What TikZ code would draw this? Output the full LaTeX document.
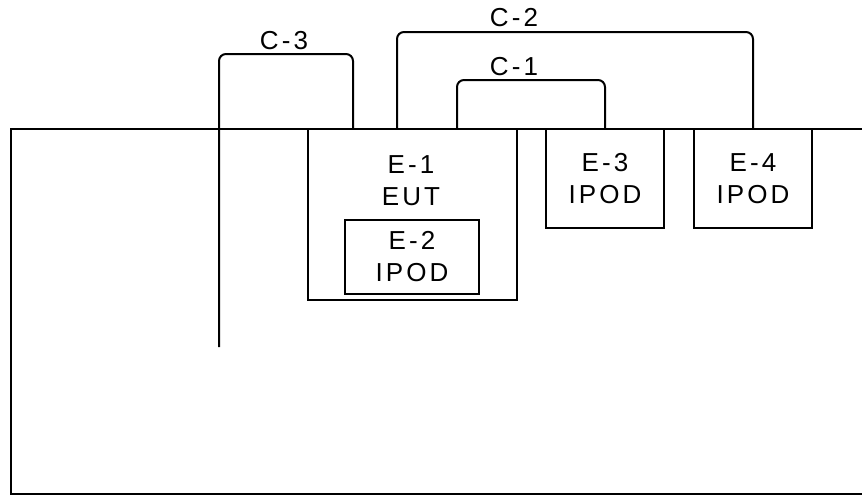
\documentclass[tikz,border=0pt]{standalone}
\usepackage{fontspec}
\setsansfont{Liberation Sans}[LetterSpace=12]
\usetikzlibrary{calc}

\begin{document}
\begin{tikzpicture}[
    x=0.5pt, y=-0.5pt,
    font=\sffamily\fontsize{13}{16}\selectfont,
    unit/.style={
        draw,
        line width=1pt,
        outer sep=0pt,
        inner sep=0pt,
        align=center
    },
    wire/.style={
        line width=1pt,
        rounded corners=3.5pt
    },
    tag/.style={
        inner sep=0pt,
        align=center
    }
]

\useasboundingbox (0,0) rectangle (862,495);

% --------------------------------------------------
% Bench and units
% --------------------------------------------------

\node[unit, anchor=north west, minimum width=460pt, minimum height=182.5pt]
    (room) at (11,129) {};

\node[unit, minimum width=104.5pt, minimum height=85.5pt]
    (e1) at (412.5,214.5) {};

\node[tag] (e1txt) at (411,181)
    {E-1\\EUT};

\node[unit, minimum width=67pt, minimum height=37pt]
    (e2) at (412,257) {E-2\\IPOD};

\node[unit, minimum width=59pt, minimum height=49.5pt]
    (e3) at (605,178.5) {E-3\\IPOD};

\node[unit, minimum width=59pt, minimum height=49.5pt]
    (e4) at (753,178.5) {E-4\\IPOD};

% --------------------------------------------------
% Cables
% --------------------------------------------------

\coordinate (c3end) at (219,347);

\draw[wire] ($(e1.north)+(44.5,0)$) |- ($(e3.north)+(0,-49)$) -- (e3.north);
\draw[wire] ($(e1.north)+(-15.5,0)$) |- ($(e4.north)+(0,-97)$) -- (e4.north);
\draw[wire] (c3end) |- ($(e1.north)+(-59.5,-75)$) -- ($(e1.north)+(-59.5,0)$);

\node[tag] (c1) at (514,67) {C-1};
\node[tag] (c2) at (514,18) {C-2};
\node[tag] (c3) at (284,41) {C-3};

\end{tikzpicture}
\end{document}
